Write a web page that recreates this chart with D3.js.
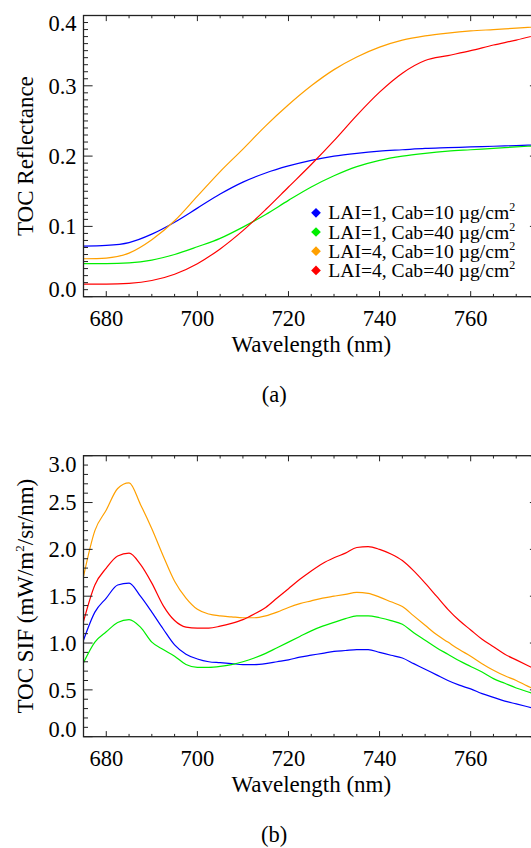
<!DOCTYPE html>
<html><head><meta charset="utf-8">
<script src="https://cdn.jsdelivr.net/npm/d3@7"></script>
<style>body{margin:0;background:#fff}svg{display:block}text{font-family:"Liberation Serif","Times New Roman",serif;fill:#000}</style>
</head><body>
<svg id="chart" width="531" height="848"></svg>
<script>
// ---- Data ----
const seriesNames = ["LAI=1, Cab=10 \u00b5g/cm", "LAI=1, Cab=40 \u00b5g/cm", "LAI=4, Cab=10 \u00b5g/cm", "LAI=4, Cab=40 \u00b5g/cm"];
const seriesColors = ["#0000ff", "#00ee00", "#ffa000", "#ff0000"];

const wlRefl = [675,680,685,690,695,700,705,710,715,720,725,730,735,740,745,750,755,760,765,770,775];
const reflLai1Cab10 = [0.072,0.073,0.077,0.089,0.106,0.126,0.146,0.163,0.176,0.186,0.194,0.200,0.204,0.207,0.209,0.211,0.212,0.213,0.214,0.215,0.216];
const reflLai1Cab40 = [0.047,0.047,0.048,0.052,0.060,0.071,0.083,0.099,0.117,0.137,0.156,0.172,0.185,0.194,0.200,0.204,0.207,0.209,0.211,0.213,0.215];
const reflLai4Cab10 = [0.054,0.055,0.062,0.081,0.108,0.143,0.178,0.210,0.243,0.273,0.300,0.323,0.341,0.355,0.365,0.371,0.375,0.378,0.380,0.382,0.384];
const reflLai4Cab40 = [0.018,0.018,0.019,0.023,0.032,0.047,0.068,0.094,0.124,0.156,0.188,0.222,0.258,0.291,0.318,0.336,0.343,0.350,0.358,0.365,0.373];

const wlSif = [675,677.5,680,682.5,685,687.5,690,692.5,695,697.5,700,702.5,705,707.5,710,712.5,715,717.5,720,722.5,725,727.5,730,732.5,735,737.5,740,742.5,745,747.5,750,752.5,755,757.5,760,762.5,765,767.5,770,772.5,775];
const sifLai1Cab10 = [1.03,1.33,1.48,1.62,1.64,1.50,1.33,1.15,0.98,0.88,0.83,0.80,0.79,0.78,0.77,0.77,0.78,0.80,0.82,0.85,0.87,0.89,0.91,0.92,0.93,0.93,0.90,0.87,0.84,0.78,0.72,0.66,0.60,0.55,0.51,0.46,0.42,0.38,0.35,0.32,0.29];
const sifLai1Cab40 = [0.79,1.01,1.12,1.22,1.25,1.17,1.01,0.93,0.86,0.77,0.74,0.74,0.75,0.77,0.80,0.84,0.89,0.95,1.01,1.07,1.13,1.18,1.22,1.26,1.29,1.29,1.27,1.24,1.20,1.11,1.03,0.95,0.88,0.81,0.75,0.69,0.62,0.57,0.52,0.48,0.44];
const sifLai4Cab10 = [1.71,2.20,2.42,2.65,2.71,2.48,2.22,1.93,1.66,1.48,1.36,1.31,1.29,1.28,1.27,1.27,1.29,1.33,1.38,1.42,1.45,1.48,1.50,1.52,1.54,1.53,1.49,1.44,1.39,1.29,1.19,1.09,1.01,0.93,0.86,0.78,0.71,0.65,0.60,0.54,0.49];
const sifLai4Cab40 = [1.23,1.62,1.80,1.93,1.96,1.84,1.64,1.40,1.24,1.17,1.16,1.16,1.18,1.21,1.25,1.31,1.38,1.48,1.58,1.68,1.77,1.85,1.91,1.96,2.02,2.03,2.00,1.95,1.88,1.77,1.64,1.50,1.36,1.24,1.14,1.04,0.96,0.88,0.82,0.76,0.70];

const xTicks = [680,700,720,740,760];
const reflTicks = [0.0,0.1,0.2,0.3,0.4];
const sifTicks = [0.0,0.5,1.0,1.5,2.0,2.5,3.0];

// ---- Layout ----
const svg = d3.select("#chart");
const X0 = 83.5, X1 = 539;
const x = d3.scaleLinear().domain([675,775]).range([X0,X1]);

function panel(opts){
  const {top, bottom, yDomain, yTicks, yMinorStep, yFmt, ytitle, label, wl, series, legend} = opts;
  const y = d3.scaleLinear().domain(yDomain).range([bottom, top]);
  const g = svg.append("g");
  const clipId = "clip" + label.replace(/\W/g,"");
  svg.append("clipPath").attr("id", clipId).append("rect")
    .attr("x", X0).attr("y", top).attr("width", X1-X0).attr("height", bottom-top);

  // lines
  const line = d3.line().x((d,i)=>x(wl[i])).y(d=>y(d)).curve(d3.curveMonotoneX);
  series.forEach((s,k)=>{
    g.append("path").attr("d", line(s)).attr("fill","none")
      .attr("stroke", seriesColors[k]).attr("stroke-width",1.2)
      .attr("clip-path", `url(#${clipId})`);
  });

  const axColor = "#222";
  // frame
  g.append("rect").attr("x",X0).attr("y",top).attr("width",X1-X0).attr("height",bottom-top)
    .attr("fill","none").attr("stroke",axColor).attr("stroke-width",1.3);

  // x ticks (bottom + top)
  const xMinor = d3.range(675, 775.01, 5);
  const xMaj = 5.6, xMin = 2.8;
  xMinor.forEach(v=>{
    const L = xTicks.includes(v) ? xMaj : xMin;
    g.append("line").attr("x1",x(v)).attr("x2",x(v)).attr("y1",bottom).attr("y2",bottom-L).attr("stroke",axColor);
    g.append("line").attr("x1",x(v)).attr("x2",x(v)).attr("y1",top).attr("y2",top+L).attr("stroke",axColor);
  });
  xTicks.forEach(v=>{
    g.append("text").attr("x",x(v)).attr("y",bottom+29.5).attr("text-anchor","middle")
      .attr("font-size",22.5).text(v);
  });
  g.append("text").attr("x",(X0+X1)/2).attr("y",bottom+55.3).attr("text-anchor","middle")
    .attr("font-size",23).text("Wavelength (nm)");

  // y ticks (left + right)
  const yMaj = 9.1, yMin = 4.5;
  const nMinor = Math.round((yDomain[1]-yDomain[0])/yMinorStep);
  for(let i=0;i<=nMinor;i++){
    const v = yDomain[0] + i*yMinorStep;
    const isMaj = yTicks.some(t=>Math.abs(t-v)<1e-9);
    const L = isMaj ? yMaj : yMin;
    g.append("line").attr("x1",X0).attr("x2",X0+L).attr("y1",y(v)).attr("y2",y(v)).attr("stroke",axColor);
    g.append("line").attr("x1",X1).attr("x2",X1-L).attr("y1",y(v)).attr("y2",y(v)).attr("stroke",axColor);
  }
  yTicks.forEach((v,i)=>{
    let shift = 0;
    if(i===0) shift = -7.5;
    if(i===yTicks.length-1) shift = 8;
    g.append("text").attr("x",76.5).attr("y",y(v)+shift+7.8).attr("text-anchor","end")
      .attr("font-size",22.5).text(yFmt(v));
  });
  // y title
  const yt = g.append("text").attr("transform",`translate(32.5,${(top+bottom)/2}) rotate(-90)`)
    .attr("text-anchor","middle").attr("font-size",23);
  ytitle(yt);

  // panel label
  g.append("text").attr("x",274.2).attr("y",bottom+105).attr("text-anchor","middle")
    .attr("font-size",22.5).text(label);

  if(legend){
    const rowY = [212.8, 232, 251.2, 270.4];
    seriesNames.forEach((n,k)=>{
      g.append("path").attr("d", d3.symbol(d3.symbolDiamond2, 60)())
        .attr("transform",`translate(316,${rowY[k]})`).attr("fill",seriesColors[k]);
      const t = g.append("text").attr("x",328.3).attr("y",rowY[k]+6.5).attr("font-size",19.6);
      t.append("tspan").text(n);
      t.append("tspan").attr("font-size",12).attr("dy",-8).text("2");
    });
  }
}

panel({
  top:15.5, bottom:296.7, yDomain:[0,0.4], yTicks:reflTicks, yMinorStep:0.01,
  yFmt:d3.format(".1f"),
  ytitle: t=>t.text("TOC Reflectance"),
  label:"(a)", wl:wlRefl,
  series:[reflLai1Cab10, reflLai1Cab40, reflLai4Cab10, reflLai4Cab40],
  legend:true
});
panel({
  top:455.7, bottom:736.7, yDomain:[0,3], yTicks:sifTicks, yMinorStep:0.1,
  yFmt:d3.format(".1f"),
  ytitle: t=>{ t.append("tspan").text("TOC SIF (mW/m");
               t.append("tspan").attr("font-size",13).attr("dy",-9).text("2");
               t.append("tspan").attr("dy",9).text("/sr/nm)"); },
  label:"(b)", wl:wlSif,
  series:[sifLai1Cab10, sifLai1Cab40, sifLai4Cab10, sifLai4Cab40],
  legend:false
});
</script>
</body></html>
